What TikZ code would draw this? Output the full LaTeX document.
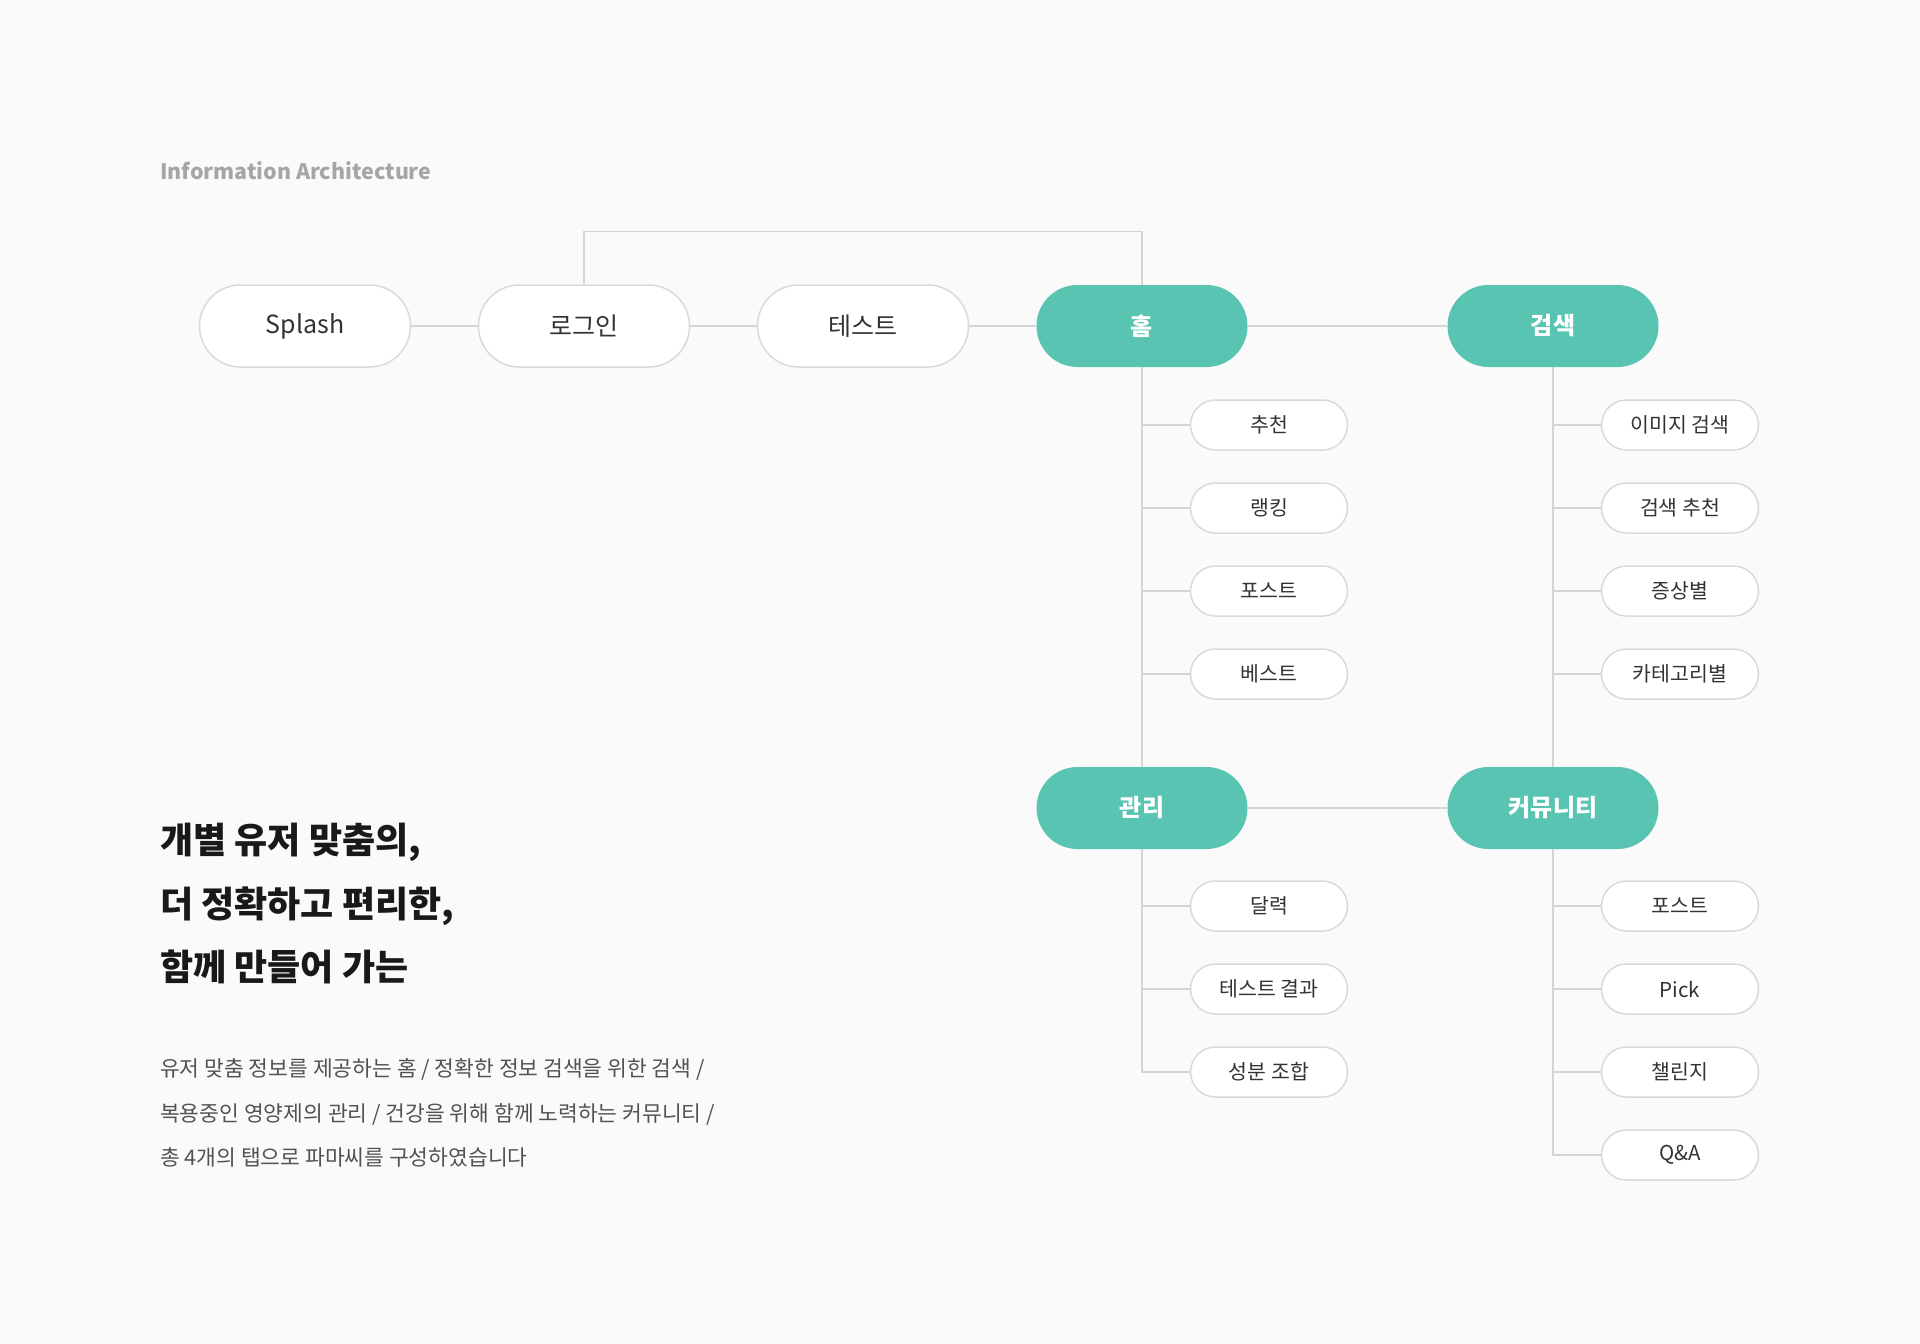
\documentclass[tikz,border=0pt]{standalone}
\usepackage{fontspec}
\setmainfont{Noto Sans CJK KR}
\usetikzlibrary{positioning}
\definecolor{mint}{HTML}{5AC4B2}
\definecolor{paper}{HTML}{FAFAFA}
\definecolor{wiregrey}{HTML}{D4D4D4}
\definecolor{rim}{HTML}{DADADA}
\definecolor{ink}{HTML}{333333}
\definecolor{mutedgrey}{HTML}{A6A6A6}
\tikzset{	x=1pt, y=-1pt,
	node distance=279pt,
	page/.style={
		draw=rim, line width=1.5pt, fill=white,
		rounded corners=41pt,
		minimum width=211pt, minimum height=82pt,
		text=ink, font=\fontsize{25}{29}\selectfont},
	tab/.style={
		fill=mint,
		rounded corners=41pt,
		minimum width=211pt, minimum height=82pt,
		text=white, font=\fontsize{24}{28}\selectfont\bfseries},
	menu/.style={
		draw=rim, line width=1.5pt, fill=white,
		rounded corners=25pt,
		minimum width=157pt, minimum height=50pt,
		text=ink, font=\fontsize{20.5}{24}\selectfont},
	link/.style={
		draw=wiregrey,
		line width=1.5pt}
}

\begin{document}
\begin{tikzpicture}
				\fill[paper] (0,0) rectangle (1920,1344);
				% main flow
				\node[page] (splash) at (305,326) {Splash};
				\node[page, right of=splash] (login) {로그인};
				\node[page, right of=login] (test) {테스트};
				\node[tab, right of=test] (home) {홈};
				\node[tab, right of=home, node distance=411pt] (search) {검색};
				\node[tab, below of=home, node distance=482pt] (manage) {관리};
				\node[tab, below of=search, node distance=482pt] (community) {커뮤니티};
				% home menus
				\node[menu, below of=home, node distance=99pt, xshift=127pt] (recommend) {추천};
				\node[menu, below of=recommend, node distance=83pt] (ranking) {랭킹};
				\node[menu, below of=ranking, node distance=83pt] (post) {포스트};
				\node[menu, below of=post, node distance=83pt] (best) {베스트};
				% search menus
				\node[menu, below of=search, node distance=99pt, xshift=127pt] (imgsearch) {이미지 검색};
				\node[menu, below of=imgsearch, node distance=83pt] (searchrec) {검색 추천};
				\node[menu, below of=searchrec, node distance=83pt] (symptom) {증상별};
				\node[menu, below of=symptom, node distance=83pt] (category) {카테고리별};
				% manage menus
				\node[menu, below of=manage, node distance=98pt, xshift=127pt] (calendar) {달력};
				\node[menu, below of=calendar, node distance=83pt] (result) {테스트 결과};
				\node[menu, below of=result, node distance=83pt] (combo) {성분 조합};
				% community menus
				\node[menu, below of=community, node distance=98pt, xshift=127pt] (cpost) {포스트};
				\node[menu, below of=cpost, node distance=83pt] (pick) {Pick};
				\node[menu, below of=pick, node distance=83pt] (challenge) {챌린지};
				\node[menu, below of=challenge, node distance=83pt] (qna) {Q\&A};
				% connectors
				\draw[link] (splash) -- (login);
				\draw[link] (login) -- (test);
				\draw[link] (test) -- (home);
				\draw[link] (home) -- (search);
				\draw[link] (login.north) -- ++(0,-53) -| (home.north);
				\draw[link] (home) -- (manage);
				\draw[link] (search) -- (community);
				\draw[link] (manage) -- (community);
				\draw[link] (recommend.west) -- (recommend.west -| home);
				\draw[link] (ranking.west) -- (ranking.west -| home);
				\draw[link] (post.west) -- (post.west -| home);
				\draw[link] (best.west) -- (best.west -| home);
				\draw[link] (imgsearch.west) -- (imgsearch.west -| search);
				\draw[link] (searchrec.west) -- (searchrec.west -| search);
				\draw[link] (symptom.west) -- (symptom.west -| search);
				\draw[link] (category.west) -- (category.west -| search);
				\draw[link] (manage) |- (combo.west);
				\draw[link] (calendar.west) -- (calendar.west -| manage);
				\draw[link] (result.west) -- (result.west -| manage);
				\draw[link] (community) |- (qna.west);
				\draw[link] (cpost.west) -- (cpost.west -| community);
				\draw[link] (pick.west) -- (pick.west -| community);
				\draw[link] (challenge.west) -- (challenge.west -| community);
				% texts
				\node[anchor=west, inner sep=0, text=mutedgrey, font=\fontsize{21.4}{25}\selectfont\bfseries] (caption) at (160,171) {Information Architecture};
				\node[anchor=west, inner sep=0, align=left, text=black!90, font=\fontsize{36}{63.5}\selectfont\bfseries] (slogan) at (160,904) {개별 유저 맞춤의,\\더 정확하고 편리한,\\함께 만들어 가는};
				\node[anchor=west, inner sep=0, align=left, text=ink!85, font=\fontsize{21.5}{44.5}\selectfont] (summary) at (160,1113) {유저 맞춤 정보를 제공하는 홈 / 정확한 정보 검색을 위한 검색 /\\복용중인 영양제의 관리 / 건강을 위해 함께 노력하는 커뮤니티 /\\총 4개의 탭으로 파마씨를 구성하였습니다};
			\end{tikzpicture}
\end{document}
